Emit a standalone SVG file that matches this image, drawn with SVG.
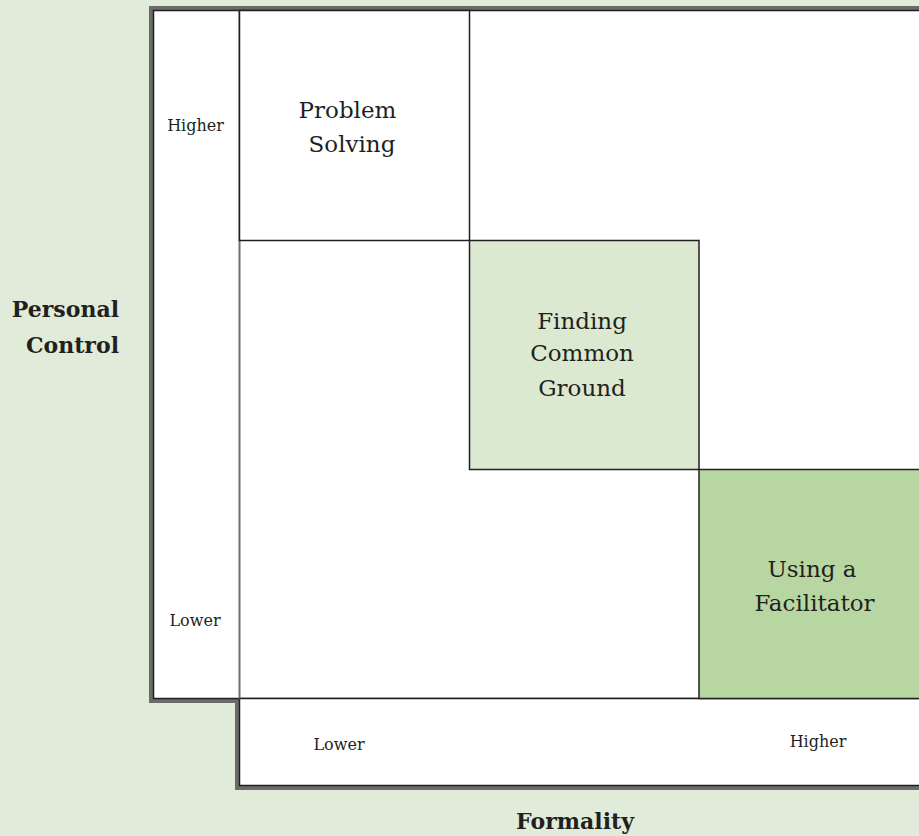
<svg xmlns="http://www.w3.org/2000/svg" width="919" height="836" viewBox="0 0 919 836">
<style>
.bg{fill:#e0ecd9}
.frame{fill:#6b6b6b}
.cell{fill:#ffffff;stroke:#231f20;stroke-width:1.5}
.t{font-family:"DejaVu Serif","Liberation Serif",serif;fill:#231f20;text-anchor:middle}
.big{font-size:23px}
.small{font-size:16px}
.axis{font-family:"DejaVu Serif","Liberation Serif",serif;font-weight:bold;font-size:22px;fill:#231f20}
</style>
<rect class="bg" x="0" y="0" width="919" height="836"/>
<g id="frame">
<path class="frame" d="M149,6 H930 V790 H235 V703 H149 Z"/>
<rect class="cell" x="153.5" y="10.5" width="800" height="688"/>
<rect class="cell" x="239.5" y="698.5" width="720" height="87"/>
<line x1="239.5" y1="10.5" x2="239.5" y2="698.5" stroke="#6f6f6f" stroke-width="2"/>
</g>
<g id="axis-personal-control">
<text class="axis" x="119" y="317" text-anchor="end">Personal</text>
<text class="axis" x="119" y="353" text-anchor="end">Control</text>
</g>
<g id="axis-formality">
<text class="axis" x="575" y="829" text-anchor="middle">Formality</text>
</g>
<g id="label-left-higher"><text class="t small" x="195.5" y="131">Higher</text></g>
<g id="label-left-lower"><text class="t small" x="195" y="626">Lower</text></g>
<g id="label-bottom-lower"><text class="t small" x="339" y="750">Lower</text></g>
<g id="label-bottom-higher"><text class="t small" x="818" y="747">Higher</text></g>
<g id="problem-solving">
<rect class="cell" x="239.5" y="10.5" width="230" height="230"/>
<text class="t big" x="347.5" y="118">Problem</text>
<text class="t big" x="352" y="152">Solving</text>
</g>
<g id="finding-common-ground">
<rect class="cell" x="469.5" y="240.5" width="229.5" height="229" style="fill:#dce9d1"/>
<text class="t big" x="582" y="329">Finding</text>
<text class="t big" x="582" y="361">Common</text>
<text class="t big" x="582" y="396">Ground</text>
</g>
<g id="using-a-facilitator">
<rect class="cell" x="699" y="469.5" width="240" height="229" style="fill:#b8d6a2"/>
<text class="t big" x="812" y="577">Using a</text>
<text class="t big" x="814.5" y="611">Facilitator</text>
</g>
</svg>
